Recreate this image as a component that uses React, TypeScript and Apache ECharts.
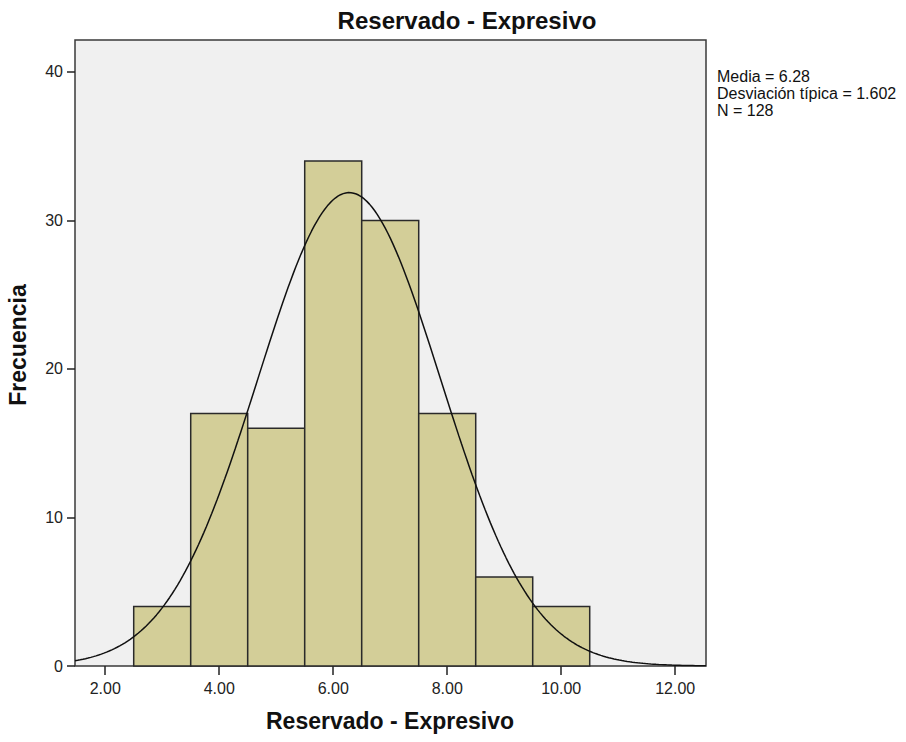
import React, { useEffect, useRef } from "react";
import * as echarts from "echarts";

// Histogram bins: [lower edge, upper edge, frequency]
const binEdgesLow = [2.5, 3.5, 4.5, 5.5, 6.5, 7.5, 8.5, 9.5];
const binEdgesHigh = [3.5, 4.5, 5.5, 6.5, 7.5, 8.5, 9.5, 10.5];
const frequencies = [4, 17, 16, 34, 30, 17, 6, 4];

// Summary statistics shown beside the plot
const mean = 6.28;
const stdDev = 1.602;
const sampleSize = 128;
const binWidth = 1;

const xTicks = [2, 4, 6, 8, 10, 12];
const yTicks = [0, 10, 20, 30, 40];
const xMin = 1.47;
const xMax = 12.54;
const yMax = 42.15;

// Fitted normal curve scaled to frequency counts
function normalCurve(): [number, number][] {
  const pts: [number, number][] = [];
  const steps = 240;
  for (let i = 0; i <= steps; i++) {
    const x = xMin + ((xMax - xMin) * i) / steps;
    const z = (x - mean) / stdDev;
    const y =
      (sampleSize * binWidth * Math.exp(-0.5 * z * z)) /
      (stdDev * Math.sqrt(2 * Math.PI));
    pts.push([x, y]);
  }
  return pts;
}

export default function App() {
  const ref = useRef<HTMLDivElement>(null);

  useEffect(() => {
    if (!ref.current) return;
    const chart = echarts.init(ref.current, undefined, { renderer: "svg" });
    const font = "'Liberation Sans', Arial, sans-serif";
    const bins = binEdgesLow.map((lo, i) => [lo, binEdgesHigh[i], frequencies[i]]);

    chart.setOption({
      animation: false,
      backgroundColor: "#ffffff",
      grid: {
        left: 75,
        top: 40,
        width: 631,
        height: 626,
        show: true,
        backgroundColor: "#f0f0f0",
        borderColor: "#3a3a3a",
        borderWidth: 1.5,
      },
      xAxis: {
        type: "value",
        min: xMin,
        max: xMax,
        axisLine: { show: false },
        splitLine: { show: false },
        axisTick: {
          show: true,
          customValues: xTicks,
          length: 9,
          lineStyle: { color: "#222", width: 1.5 },
        },
        axisLabel: {
          customValues: xTicks,
          formatter: (v: number) => v.toFixed(2),
          color: "#222",
          fontSize: 16,
          fontFamily: font,
          margin: 14,
        },
      },
      yAxis: {
        type: "value",
        min: 0,
        max: yMax,
        axisLine: { show: false },
        splitLine: { show: false },
        axisTick: {
          show: true,
          customValues: yTicks,
          length: 8,
          lineStyle: { color: "#222", width: 1.5 },
        },
        axisLabel: {
          customValues: yTicks,
          color: "#222",
          fontSize: 16,
          fontFamily: font,
          margin: 12,
        },
      },
      series: [
        {
          type: "custom",
          data: bins,
          encode: { x: [0, 1], y: 2 },
          renderItem: (params: any, api: any) => {
            const p0 = api.coord([api.value(0), 0]);
            const p1 = api.coord([api.value(1), api.value(2)]);
            return {
              type: "rect",
              shape: { x: p0[0], y: p1[1], width: p1[0] - p0[0], height: p0[1] - p1[1] },
              style: { fill: "#d3ce98", stroke: "#2a2a2a", lineWidth: 1.5 },
            };
          },
          z: 2,
        },
        {
          type: "line",
          data: normalCurve(),
          showSymbol: false,
          smooth: false,
          lineStyle: { color: "#111", width: 1.5 },
          z: 3,
        },
      ],
      graphic: [
        {
          type: "text",
          x: 467,
          y: 20,
          style: {
            text: "Reservado - Expresivo",
            font: `bold 24px ${font}`,
            fill: "#111",
            align: "center",
            verticalAlign: "middle",
          },
        },
        {
          type: "text",
          x: 390,
          y: 721,
          style: {
            text: "Reservado - Expresivo",
            font: `bold 23px ${font}`,
            fill: "#111",
            align: "center",
            verticalAlign: "middle",
          },
        },
        {
          type: "text",
          x: 18,
          y: 345,
          rotation: Math.PI / 2,
          style: {
            text: "Frecuencia",
            font: `bold 23px ${font}`,
            fill: "#111",
            align: "center",
            verticalAlign: "middle",
          },
        },
        {
          type: "text",
          x: 717,
          y: 68,
          style: {
            text: `Media = ${mean.toFixed(2)}\nDesviación típica = ${stdDev.toFixed(3)}\nN = ${sampleSize}`,
            font: `16px ${font}`,
            lineHeight: 17,
            fill: "#111",
            align: "left",
            verticalAlign: "top",
          },
        },
      ],
    });

    return () => chart.dispose();
  }, []);

  return (
    <div
      ref={ref}
      style={{ position: "fixed", left: 0, top: 0, width: 906, height: 742 }}
    />
  );
}
